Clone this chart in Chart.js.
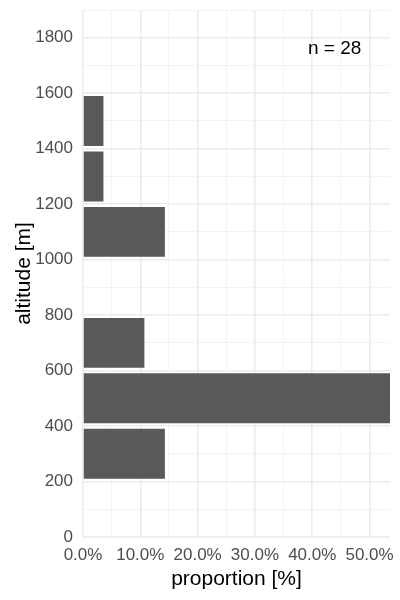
<!DOCTYPE html>
<html>
<head>
<meta charset="utf-8">
<script src="https://cdn.jsdelivr.net/npm/chart.js@4"></script>
<style>
    html, body { margin: 0; padding: 0; background: #fff; }
    #wrap { width: 400px; height: 600px; position: relative; }
</style>
</head>
<body>
<div id="wrap"><canvas id="altChart"></canvas></div>
<script>
// ═══════════════ DATA ═══════════════

// bin centres of 200 m altitude bins, and share of the 28 samples in each
const binCentres = [300, 500, 700, 900, 1100, 1300, 1500];
const proportions = [14.29, 53.57, 10.71, 0, 14.29, 3.57, 3.57];
const yTicks = [0, 200, 400, 600, 800, 1000, 1200, 1400, 1600, 1800];
const xTicks = [0, 10, 20, 30, 40, 50];
const sampleLabel = 'n = 28';

// ═══════════════ CHART ═══════════════

const FONT = '"Liberation Sans", Arial, sans-serif';
const gridMajor = '#EBEBEB';
const gridMinor = '#F3F3F3';

function isMajor(ctx, list) {
    return !!ctx.tick && list.includes(ctx.tick.value);
}

// draws the "n = 28" note at a data position
const noteLabel = {
    id: 'noteLabel',
    afterDatasetsDraw(chart) {
        const { ctx, scales } = chart;
        ctx.save();
        ctx.font = '19px ' + FONT;
        ctx.fillStyle = '#000';
        ctx.textAlign = 'center';
        ctx.textBaseline = 'middle';
        ctx.fillText(sampleLabel, scales.x.getPixelForValue(43.9), scales.y.getPixelForValue(1759));
        ctx.restore();
    }
};

new Chart(document.getElementById('altChart').getContext('2d'), {
    type: 'bar',
    data: {
        datasets: [{
            data: binCentres.map((c, i) => ({ x: proportions[i], y: c })),
            backgroundColor: '#595959',
            borderWidth: 0,
            // the minor 100 m ticks halve Chart.js' sample size, so 1.8 = 90% of a 200 m bin
            barPercentage: 1.8,
            categoryPercentage: 1
        }]
    },
    options: {
        indexAxis: 'y',
        responsive: true,
        maintainAspectRatio: false,
        animation: false,
        layout: { padding: { left: 0, right: 10, top: 10, bottom: 0 } },
        plugins: { legend: { display: false }, tooltip: { enabled: false } },
        scales: {
            y: {
                type: 'linear',
                min: 0,
                max: 1900,
                offset: false,
                border: { display: false },
                grid: {
                    offset: false,
                    color: ctx => isMajor(ctx, yTicks) ? gridMajor : gridMinor,
                    lineWidth: ctx => isMajor(ctx, yTicks) ? 1.6 : 1,
                    drawTicks: false
                },
                ticks: {
                    stepSize: 100,
                    includeBounds: false,
                    padding: 10,
                    color: '#4D4D4D',
                    font: { family: FONT, size: 17 },
                    callback: v => yTicks.includes(v) ? String(v) : ''
                },
                title: {
                    display: true,
                    text: 'altitude [m]',
                    color: '#000',
                    font: { family: FONT, size: 21 },
                    padding: { top: 12, bottom: 0 }
                },
                afterFit: s => { s.width = 83; s.paddingTop = 0; s.paddingBottom = 0; }
            },
            x: {
                type: 'linear',
                min: 0,
                max: 53.57,
                offset: false,
                border: { display: false },
                grid: {
                    offset: false,
                    color: ctx => isMajor(ctx, xTicks) ? gridMajor : gridMinor,
                    lineWidth: ctx => isMajor(ctx, xTicks) ? 1.6 : 1,
                    drawTicks: false
                },
                ticks: {
                    stepSize: 5,
                    includeBounds: false,
                    maxRotation: 0,
                    autoSkip: false,
                    padding: 8,
                    color: '#4D4D4D',
                    font: { family: FONT, size: 17 },
                    callback: v => xTicks.includes(v) ? v.toFixed(1) + '%' : ''
                },
                title: {
                    display: true,
                    text: 'proportion [%]',
                    color: '#000',
                    font: { family: FONT, size: 21 },
                    padding: { top: 0, bottom: 8 }
                },
                afterFit: s => { s.height = 63; s.paddingLeft = 0; s.paddingRight = 0; }
            }
        }
    },
    plugins: [noteLabel]
});
</script>
</body>
</html>
